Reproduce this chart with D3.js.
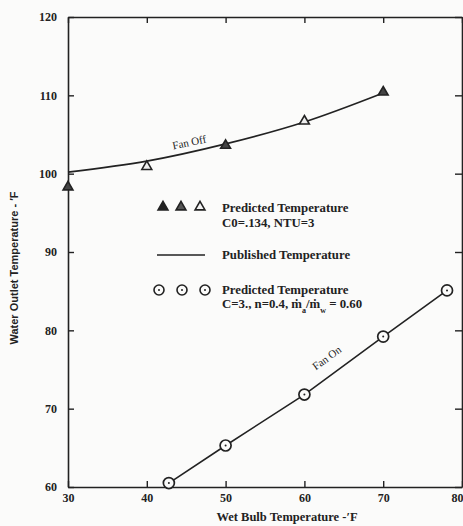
<!DOCTYPE html>
<html>
<head>
<meta charset="utf-8">
<script src="https://cdn.jsdelivr.net/npm/d3@7"></script>
<style>
  html, body { margin: 0; padding: 0; background: #fbfbfa; }
  svg { display: block; }
  .tick text { font-family: "Liberation Serif", "DejaVu Serif", serif; font-weight: bold; font-size: 12px; fill: #222; }
  .tick line { stroke: #222; stroke-width: 1.4; }
  .domain { stroke: #222; stroke-width: 1.6; }
</style>
</head>
<body>
<script>
// Fan-off run: predicted temperatures (triangles) and published curve
const fanOffWetBulb = [30, 40, 50, 60, 70];
const fanOffPredicted = [98.3, 100.9, 103.6, 106.7, 110.4];
const fanOffPublished = [100.2, 101.6, 103.8, 106.6, 110.3];

// Fan-on run: predicted temperatures (circles) and published line
const fanOnWetBulb = [42.8, 50, 60, 70, 78.1];
const fanOnPredicted = [60.5, 65.3, 71.8, 79.2, 85.1];

const xTicks = [30, 40, 50, 60, 70, 80];
const yTicks = [60, 70, 80, 90, 100, 110, 120];

const W = 463, H = 526;
const margin = { left: 68, right: 1, top: 17, bottom: 39 };

const svg = d3.select("body").append("svg").attr("width", W).attr("height", H);

const x = d3.scaleLinear().domain([30, 80]).range([margin.left, W - margin.right]);
const y = d3.scaleLinear().domain([60, 120]).range([H - margin.bottom, margin.top]);

const serif = "'Liberation Serif', 'DejaVu Serif', serif";
const ink = "#222";

// Axes: ticks point into the plot on all four sides
const xAxisG = svg.append("g").attr("transform", `translate(0,${y(60)})`)
  .call(d3.axisBottom(x).tickValues(xTicks).tickSize(-6).tickPadding(6).tickSizeOuter(0));
// keep the last label inside the frame edge
xAxisG.selectAll(".tick text").filter(d => d === 80).attr("text-anchor", "end").attr("dx", 1);
svg.append("g").attr("transform", `translate(${x(30)},0)`)
  .call(d3.axisLeft(y).tickValues(yTicks).tickSize(-6).tickPadding(11).tickSizeOuter(0));
svg.append("g").attr("transform", `translate(0,${y(120)})`)
  .call(d3.axisTop(x).tickValues(xTicks).tickSize(-6).tickFormat("").tickSizeOuter(0));
svg.append("g").attr("transform", `translate(${x(80)},0)`)
  .call(d3.axisRight(y).tickValues(yTicks).tickSize(-7).tickFormat("").tickSizeOuter(0));

// Axis titles
svg.append("text")
  .attr("x", (x(30) + x(80)) / 2 + 22).attr("y", 521)
  .attr("text-anchor", "middle")
  .style("font-family", serif).style("font-weight", "bold").style("font-size", "12.5px").style("fill", ink)
  .text("Wet Bulb Temperature -\u2032F");

svg.append("text")
  .attr("transform", `translate(18,${268}) rotate(-90)`)
  .attr("text-anchor", "middle")
  .style("font-family", "'Liberation Sans', Arial, sans-serif").style("font-weight", "bold")
  .style("font-size", "11px").style("fill", ink)
  .text("Water Outlet Temperature - \u2032F");

// Published curves
const offPts = fanOffWetBulb.map((d, i) => [x(d), y(fanOffPublished[i])]);
svg.append("path")
  .attr("d", d3.line().curve(d3.curveMonotoneX)(offPts))
  .attr("fill", "none").attr("stroke", ink).attr("stroke-width", 1.6);

const onPts = fanOnWetBulb.map((d, i) => [x(d), y(fanOnPredicted[i])]);
svg.append("path")
  .attr("d", d3.line()(onPts))
  .attr("fill", "none").attr("stroke", ink).attr("stroke-width", 1.6);

// Triangle markers
const tri = d3.symbol().type(d3.symbolTriangle).size(42);
svg.selectAll(".tri").data(fanOffWetBulb).join("path")
  .attr("class", "tri")
  .attr("transform", (d, i) => `translate(${x(d)},${y(fanOffPredicted[i])})`)
  .attr("d", tri)
  .attr("fill", (d, i) => i % 2 === 0 ? "#444" : "#eee")
  .attr("stroke", ink).attr("stroke-width", 1.6);

// Circle markers with centre dot
const circ = svg.selectAll(".circ").data(fanOnWetBulb).join("g")
  .attr("class", "circ")
  .attr("transform", (d, i) => `translate(${x(d)},${y(fanOnPredicted[i])})`);
circ.append("circle").attr("r", 5.5).attr("fill", "#fbfbfa").attr("stroke", ink).attr("stroke-width", 1.7);
circ.append("circle").attr("r", 1).attr("fill", ink);

// Curve annotations
svg.append("text")
  .attr("transform", `translate(190,146) rotate(-12)`)
  .attr("text-anchor", "middle")
  .style("font-family", serif).style("font-size", "11px").style("fill", ink)
  .text("Fan Off");
svg.append("text")
  .attr("transform", `translate(329,361) rotate(-36)`)
  .attr("text-anchor", "middle")
  .style("font-family", serif).style("font-size", "11px").style("fill", ink)
  .text("Fan On");

// Legend
const lg = svg.append("g");
const legText = (tx, ty, s) => lg.append("text").attr("x", tx).attr("y", ty)
  .style("font-family", serif).style("font-size", "12.8px").style("font-weight", "600").style("fill", ink).text(s);

[163, 181, 200].forEach((cx, i) => {
  lg.append("path").attr("transform", `translate(${cx},207)`).attr("d", tri)
    .attr("fill", ["#222", "#555", "#f4f4f4"][i]).attr("stroke", ink).attr("stroke-width", 1.6);
});
legText(222, 212, "Predicted Temperature");
legText(222, 227, "C0=.134, NTU=3");

lg.append("line").attr("x1", 157).attr("x2", 205).attr("y1", 255).attr("y2", 255)
  .attr("stroke", ink).attr("stroke-width", 1.5);
legText(222, 259, "Published Temperature");

[159, 182, 205].forEach(cx => {
  const g = lg.append("g").attr("transform", `translate(${cx},290)`);
  g.append("circle").attr("r", 5).attr("fill", "#fbfbfa").attr("stroke", ink).attr("stroke-width", 1.6);
  g.append("circle").attr("r", 1).attr("fill", ink);
});
legText(222, 294, "Predicted Temperature");
const t2 = legText(222, 308, "C=3., n=0.4, \u1E41");
t2.append("tspan").attr("baseline-shift", "sub").style("font-size", "8px").text("a");
t2.append("tspan").text("/\u1E41");
t2.append("tspan").attr("baseline-shift", "sub").style("font-size", "8px").text("w");
t2.append("tspan").text(" = 0.60");
</script>
</body>
</html>
